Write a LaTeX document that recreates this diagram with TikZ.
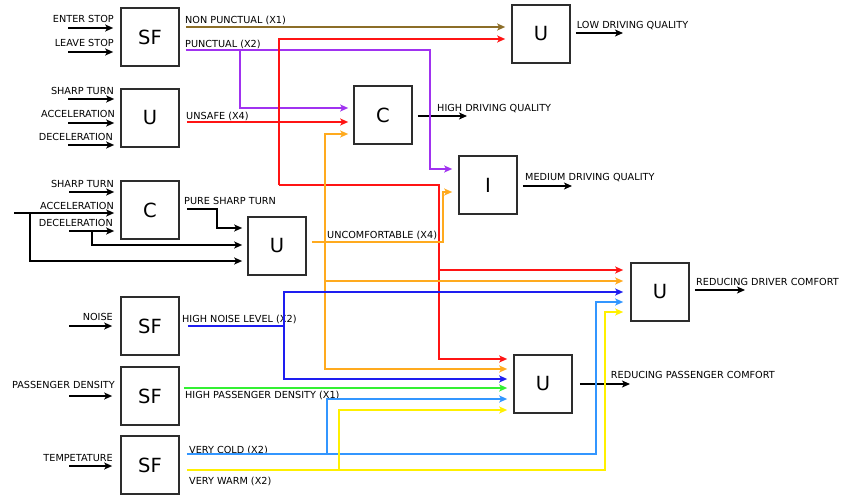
\documentclass[tikz,border=0pt]{standalone}
\usepackage{fontspec}
\setmainfont{DejaVu Sans}
\usetikzlibrary{arrows.meta}
\definecolor{cbrown}{RGB}{140,110,40}
\definecolor{cpurple}{RGB}{160,50,240}
\definecolor{cred}{RGB}{255,20,20}
\definecolor{corange}{RGB}{255,170,30}
\definecolor{cblue}{RGB}{30,30,240}
\definecolor{cgreen}{RGB}{50,240,50}
\definecolor{clblue}{RGB}{50,150,255}
\definecolor{cyellow}{RGB}{255,240,0}
\definecolor{cbox}{RGB}{45,45,45}
\begin{document}
\begin{tikzpicture}[x=1pt,y=-1pt,
  blk/.style={draw=cbox,line width=1.7pt,minimum width=58pt,minimum height=58pt,inner sep=0pt,font=\fontsize{19.5}{20}\selectfont},
  lbl/.style={inner sep=0pt,font=\fontsize{9.7}{11}\selectfont},
  lblw/.style={lbl,anchor=base west},
  lble/.style={lbl,anchor=base east},
  arr/.style={line width=1.3pt,-{Stealth[length=8pt,width=7pt,inset=2pt]}},
  ln/.style={line width=1.3pt},
  so/.style={shorten <=#1}, so/.default=6pt,
  sx/.style={shorten >=#1}, sx/.default=6pt]
\useasboundingbox (0,0) rectangle (842,495);
\fill[white] (0,0) rectangle (842,495);

% boxes
\node[blk] (SFa) at (150,37) {SF};
\node[blk] (Ua) at (150,118) {U};
\node[blk] (Ca) at (150,210) {C};
\node[blk] (Ub) at (277,246) {U};
\node[blk] (SFn) at (150,326) {SF};
\node[blk] (SFp) at (150,396) {SF};
\node[blk] (SFt) at (150,465) {SF};
\node[blk] (Ulow) at (541,34) {U};
\node[blk] (Chi) at (383,115) {C};
\node[blk] (Imed) at (488,185) {I};
\node[blk] (Udrv) at (660,292) {U};
\node[blk] (Upas) at (543,384) {U};

% input labels
\node[lble] (lES) at (114,22.7) {ENTER STOP};
\node[lble] (lLS) at (114,46) {LEAVE STOP};
\node[lble] (lST1) at (114,94.7) {SHARP TURN};
\node[lble] (lAC1) at (115,117.7) {ACCELERATION};
\node[lble] (lDE1) at (113,140) {DECELERATION};
\node[lble] (lST2) at (114,187.3) {SHARP TURN};
\node[lble] (lAC2) at (114,209.7) {ACCELERATION};
\node[lble] (lDE2) at (113,226) {DECELERATION};
\node[lble] (lNO) at (113,320) {NOISE};
\node[lble] (lPD) at (115,388.3) {PASSENGER DENSITY};
\node[lble] (lTE) at (113,461) {TEMPETATURE};

% input arrows
\coordinate (i1) at (68,28);
\coordinate (i2) at (68,52);
\coordinate (i3) at (68,99);
\coordinate (i4) at (68,123);
\coordinate (i5) at (68,145);
\coordinate (i6) at (69,192);
\coordinate (i7) at (14,213);
\coordinate (i8) at (69,231);
\coordinate (i9) at (69,326);
\coordinate (i10) at (69,396);
\coordinate (i11) at (69,466);
\draw[arr,sx=7pt] (i1) -- (SFa.west |- i1);
\draw[arr,sx=7pt] (i2) -- (SFa.west |- i2);
\draw[arr,sx=6pt] (i3) -- (Ua.west |- i3);
\draw[arr,sx=6pt] (i4) -- (Ua.west |- i4);
\draw[arr,sx=6pt] (i5) -- (Ua.west |- i5);
\draw[arr,sx=6pt] (i6) -- (Ca.west |- i6);
\draw[arr,sx=6pt] (i7) -- (Ca.west |- i7);
\draw[arr,sx=6pt] (i8) -- (Ca.west |- i8);
\draw[arr,sx=8pt] (i9) -- (SFn.west |- i9);
\draw[arr,sx=8pt] (i10) -- (SFp.west |- i10);
\draw[arr,sx=8pt] (i11) -- (SFt.west |- i11);
% branches to U (pure sharp turn)
\coordinate (b1) at (30,213);
\coordinate (b2) at (92,231);
\draw[arr,sx=5pt] (b1) -- (30,261) -- (Ub.west |- 0,261);
\draw[arr,sx=5pt] (b2) -- (92,245) -- (Ub.west |- 0,245);
\node[lblw] (lPST) at (184,204.3) {PURE SHARP TURN};
\draw[arr,so=7pt,sx=5pt] (Ca.east |- 0,209) -- (217,209) -- (217,228) -- (Ub.west |- 0,228);

% output arrows
\draw[arr,so=5pt] (Ulow.east |- 0,33) -- (623,33);
\node[lblw] (lLDQ) at (576.7,29) {LOW DRIVING QUALITY};
\draw[arr,so=5pt] (Chi.east |- 0,116) -- (467,116);
\node[lblw] (lHDQ) at (437,111) {HIGH DRIVING QUALITY};
\draw[arr,so=5pt] (Imed.east |- 0,186) -- (572,186);
\node[lblw] (lMDQ) at (525,180.3) {MEDIUM DRIVING QUALITY};
\draw[arr,so=5pt] (Udrv.east |- 0,290) -- (745,290);
\node[lblw] (lRDC) at (696,285.3) {REDUCING DRIVER COMFORT};
\draw[arr,so=7pt] (Upas.east |- 0,384) -- (630,384);
\node[lblw] (lRPC) at (610.7,378.3) {REDUCING PASSENGER COMFORT};

% output labels of the first stage
\node[lblw] (lNP) at (185,23.3) {NON PUNCTUAL (X1)};
\node[lblw] (lP) at (185,47.3) {PUNCTUAL (X2)};
\node[lblw] (lUS) at (186,119.3) {UNSAFE (X4)};
\node[lblw] (lUC) at (327,238) {UNCOMFORTABLE (X4)};
\node[lblw] (lHN) at (182,322) {HIGH NOISE LEVEL (X2)};
\node[lblw] (lHP) at (185,398.7) {HIGH PASSENGER DENSITY (X1)};
\node[lblw] (lVC) at (189,453) {VERY COLD (X2)};
\node[lblw] (lVW) at (189,484) {VERY WARM (X2)};

% brown: non punctual
\draw[cbrown,arr,so,sx] (SFa.east |- 0,27) -- (Ulow.west |- 0,27);

% purple: punctual
\coordinate (pj) at (240,50);
\draw[cpurple,arr,so,sx] (SFa.east |- 0,50) -- (430,50) -- (430,169) -- (Imed.west |- 0,169);
\draw[cpurple,arr,sx=5pt] (pj) -- (240,108) -- (Chi.west |- 0,108);

% red: unsafe
\coordinate (rj1) at (279,185);
\coordinate (rj2) at (439,270);
\draw[cred,arr,so=7pt,sx=5pt] (Ua.east |- 0,122) -- (Chi.west |- 0,122);
\draw[cred,arr,sx] (rj1) -- (279,39) -- (Ulow.west |- 0,39);
\draw[cred,arr,sx] (rj1) -- (439,185) -- (439,359) -- (Upas.west |- 0,359);
\draw[cred,arr,sx=7pt] (rj2) -- (Udrv.west |- rj2);

% orange: uncomfortable
\coordinate (oj1) at (325,134);
\coordinate (oj2) at (325,281);
\draw[corange,arr,so=5pt,sx] (Ub.east |- 0,242) -- (443,242) -- (443,192) -- (Imed.west |- 0,192);
\draw[corange,arr,sx=5pt] (325,369) -- (oj1) -- (Chi.west |- oj1);
\draw[corange,arr,sx] (oj1) -- (325,369) -- (Upas.west |- 0,369);
\draw[corange,arr,sx=7pt] (oj2) -- (Udrv.west |- oj2);

% blue: high noise level
\coordinate (bj) at (284,326);
\draw[cblue,ln,so=8pt] (SFn.east |- bj) -- (bj);
\draw[cblue,arr,sx=7pt] (bj) -- (284,292) -- (Udrv.west |- 0,292);
\draw[cblue,arr,sx] (bj) -- (284,379) -- (Upas.west |- 0,379);

% green: high passenger density
\draw[cgreen,arr,so=4pt,sx] (SFp.east |- 0,388) -- (Upas.west |- 0,388);

% light blue: very cold
\coordinate (lj) at (327,454);
\draw[clblue,arr,so=7pt,sx=7pt] (SFt.east |- lj) -- (596,454) -- (596,302) -- (Udrv.west |- 0,302);
\draw[clblue,arr,sx] (lj) -- (327,399) -- (Upas.west |- 0,399);

% yellow: very warm
\coordinate (yj) at (339,470);
\draw[cyellow,arr,so=7pt,sx=7pt] (SFt.east |- yj) -- (605,470) -- (605,312) -- (Udrv.west |- 0,312);
\draw[cyellow,arr,sx] (yj) -- (339,410) -- (Upas.west |- 0,410);
\end{tikzpicture}
\end{document}
